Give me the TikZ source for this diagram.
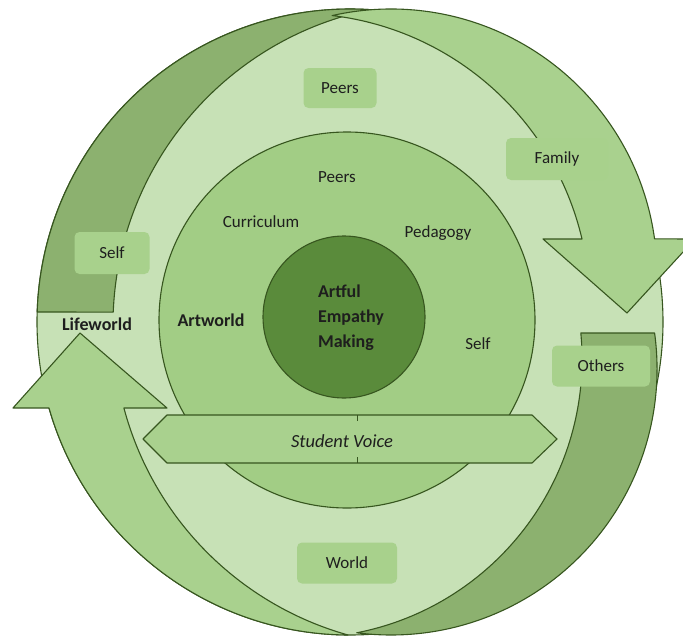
\documentclass[tikz,border=0pt]{standalone}
\usepackage{fontspec}
\setmainfont{Carlito}
\definecolor{lightg}{HTML}{C7E1B6}
\definecolor{medg}{HTML}{A9D18E}
\definecolor{darkg}{HTML}{8CB16F}
\definecolor{circg}{HTML}{A2CD85}
\definecolor{coreg}{HTML}{5A8B3B}
\definecolor{edgeg}{HTML}{37561F}
\definecolor{boxg}{HTML}{A8D18C}
\definecolor{txt}{HTML}{1E1E1E}
\begin{document}
\begin{tikzpicture}[x=1pt,y=-1pt,
  edge/.style={draw=edgeg, line width=1.1pt, line join=round},
  tagbox/.style={fill=boxg, rounded corners=5pt, inner sep=0pt, text=txt,
    font=\fontsize{17}{20}\selectfont},
  lab/.style={text=txt, inner sep=0pt, font=\fontsize{17}{20}\selectfont},
  blab/.style={text=txt, inner sep=0pt, font=\fontsize{18}{25}\selectfont\bfseries}]
\useasboundingbox (0,0) rectangle (683,637);
\clip (0,0) rectangle (683,637);
% light ring
\path[edge, fill=lightg] (350,322) circle[radius=313];
% upper-left dark band (tail of the upper arrow)
\path[edge, fill=darkg] (37.2,312) arc[start angle=181.83, end angle=273.66, radius=313]
  arc[start angle=258.36, end angle=182.3, radius=322] -- cycle;
% upper-right arrow
\path[edge, fill=medg] (332.1,15.6) arc[start angle=257.2, end angle=352.2, radius=266]
  -- (695,239) -- (627,313) -- (543,239) -- (582,239)
  arc[start angle=346.77, end angle=276.9, radius=292.5] -- cycle;
% lower-right dark band (tail of the lower arrow)
\path[edge, fill=darkg] (580.8,333) -- (654.6,333) arc[start angle=-7.78, end angle=97.41, radius=266]
  arc[start angle=78.9, end angle=-5.35, radius=279] -- cycle;
% lower-left arrow
\path[edge, fill=medg] (347.9,635) arc[start angle=90.38, end angle=164.05, radius=313]
  -- (13,408) -- (80,333) -- (167,408) -- (123.9,408)
  arc[start angle=165.06, end angle=105.7, radius=322] -- cycle;
% Artworld circle and core
\path[edge, fill=circg] (347,320) circle[radius=188];
\path[edge, fill=coreg] (344,317) circle[radius=81];
% Student Voice band
\path[edge, fill=medg] (143,439) -- (167,415) -- (532,415) -- (557,439) -- (532,463) -- (167,463) -- cycle;
\draw[draw=edgeg, line width=0.6pt] (357,415) -- (357,421) (357,457) -- (357,463);
% tag boxes
\node[tagbox, minimum width=73pt, minimum height=40pt] (peersbox) at (340,88) {Peers};
\node[tagbox, minimum width=102pt, minimum height=42pt] (familybox) at (557,159) {Family};
\node[tagbox, minimum width=75pt, minimum height=42pt] (selfbox) at (112,253) {Self};
\node[tagbox, minimum width=98pt, minimum height=41pt] (othersbox) at (601,366) {Others};
\node[tagbox, minimum width=100pt, minimum height=41pt] (worldbox) at (347,563) {World};
% labels
\node[lab] (peers) at (337,177) {Peers};
\node[lab] (curr) at (261,222) {Curriculum};
\node[lab] (ped) at (438,233) {Pedagogy};
\node[lab] (self) at (478,344) {Self};
\node[blab] (artworld) at (211,320) {Artworld};
\node[blab] (lifeworld) at (97,324) {Lifeworld};
\node[blab, align=left] (core) at (351,318) {Artful\\Empathy\\Making};
\node[text=txt, inner sep=0pt, font=\fontsize{18.5}{22}\selectfont\itshape] (sv) at (342,441) {Student Voice};
\end{tikzpicture}
\end{document}
